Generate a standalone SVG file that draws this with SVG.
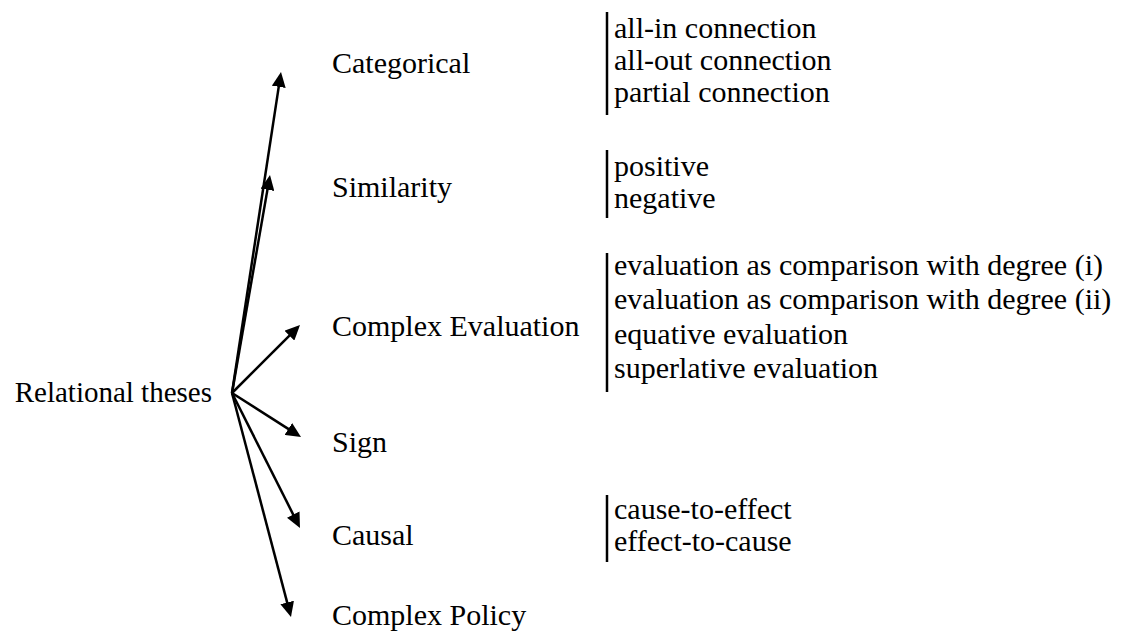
<svg xmlns="http://www.w3.org/2000/svg" width="1125" height="631" viewBox="0 0 1125 631">
<defs>
<style>
text{font-family:"Liberation Serif","Times New Roman",Times,serif;font-size:30px;fill:#000}
.c{stroke:#000;stroke-width:2.5;fill:none}
.bar{stroke:#000;stroke-width:2.5}
</style>
<marker id="ah" markerUnits="userSpaceOnUse" markerWidth="15" markerHeight="14" refX="5" refY="7" orient="auto">
<path d="M0,0 L15,7 L0,14 z" fill="#000"/>
</marker>
</defs>
<rect width="1125" height="631" fill="#fff"/>
<g id="connectors">
<line class="c" x1="232" y1="393" x2="279.49" y2="81.89" marker-end="url(#ah)"/>
<line class="c" x1="232" y1="393" x2="268.28" y2="184.85" marker-end="url(#ah)"/>
<line class="c" x1="232" y1="393" x2="292.93" y2="332.07" marker-end="url(#ah)"/>
<line class="c" x1="232" y1="393" x2="292.56" y2="431.62" marker-end="url(#ah)"/>
<line class="c" x1="232" y1="393" x2="295.50" y2="519.07" marker-end="url(#ah)"/>
<line class="c" x1="232" y1="393" x2="288.45" y2="607.33" marker-end="url(#ah)"/>
</g>
<g id="root"><text x="212" y="402" text-anchor="end" style="font-size:29px">Relational theses</text></g>
<g id="categorical">
<text x="332" y="73">Categorical</text>
<line class="bar" x1="607" y1="12" x2="607" y2="115"/>
<text x="614" y="38">all-in connection</text>
<text x="614" y="70">all-out connection</text>
<text x="614" y="102">partial connection</text>
</g>
<g id="similarity">
<text x="332" y="197">Similarity</text>
<line class="bar" x1="607" y1="150" x2="607" y2="218"/>
<text x="614" y="176">positive</text>
<text x="614" y="208">negative</text>
</g>
<g id="complex-evaluation">
<text x="332" y="336">Complex Evaluation</text>
<line class="bar" x1="607" y1="253" x2="607" y2="392"/>
<text x="614" y="275">evaluation as comparison with degree (i)</text>
<text x="614" y="309">evaluation as comparison with degree (ii)</text>
<text x="614" y="344">equative evaluation</text>
<text x="614" y="378">superlative evaluation</text>
</g>
<g id="sign"><text x="332" y="452">Sign</text></g>
<g id="causal">
<text x="332" y="545">Causal</text>
<line class="bar" x1="607" y1="495" x2="607" y2="562"/>
<text x="614" y="519">cause-to-effect</text>
<text x="614" y="551">effect-to-cause</text>
</g>
<g id="complex-policy"><text x="332" y="625">Complex Policy</text></g>
</svg>
